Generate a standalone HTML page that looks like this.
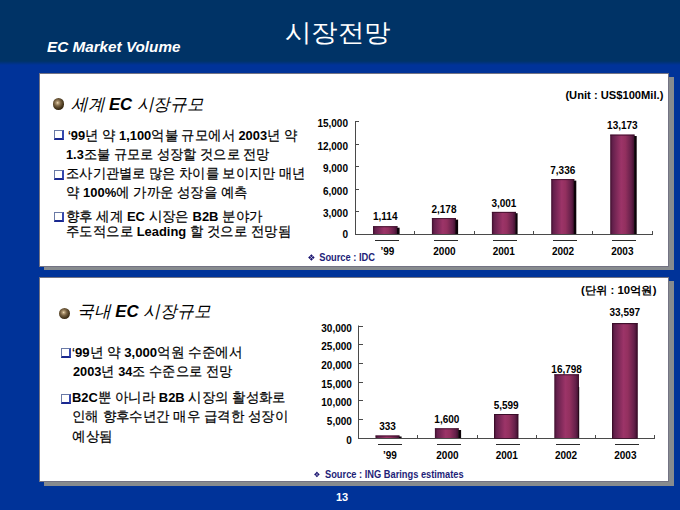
<!DOCTYPE html>
<html><head><meta charset="utf-8">
<style>
html,body{margin:0;padding:0;}
body{width:680px;height:510px;position:relative;overflow:hidden;background:#003399;font-family:"Liberation Sans",sans-serif;color:#000;}
.a{position:absolute;white-space:nowrap;}
#hdr{left:0;top:0;width:680px;height:65px;background:linear-gradient(to bottom,#003366 0,#003366 61px,#003399 65px);}
.title{left:285px;top:12.3px;font-size:25px;line-height:40px;color:#fff;transform-origin:0 0;transform:scaleX(1.06);}
.sub{left:47px;top:37.2px;font-size:15px;line-height:20px;color:#fff;font-weight:bold;font-style:italic;transform-origin:0 0;transform:scaleX(1.018);}
.panel{background:#fff;border:1px solid rgba(0,0,30,0.55);}
.shadow{background:#878b8e;}
.ball{width:11px;height:11px;border-radius:50%;background:radial-gradient(circle 7.5px at 42% 40%,#f4e2c0 0,#b8a07a 15%,#7c6646 40%,#4e3d22 70%,#2a1c08 100%);}
.head{font-size:17px;line-height:20px;font-style:italic;}
.txt{font-size:13.5px;line-height:16px;transform-origin:0 0;-webkit-text-stroke:0.2px #000;}
.txt b{-webkit-text-stroke-width:0;}
.cb{width:10px;height:10px;box-sizing:border-box;border-left:1px solid #6a7aa6;border-top:1px solid #6a7aa6;border-right:2px solid #3548b0;border-bottom:2px solid #1a2890;background:#fff;}
svg text{font-family:"Liberation Sans",sans-serif;font-weight:bold;}
.lb{font-size:10px;fill:#000;}
.unit{font-size:11px;fill:#000;}
.src{font-size:10px;fill:#1e1e78;}
.page{left:336px;top:490px;font-size:11px;line-height:14px;color:#fff;font-weight:bold;}
</style></head><body>
<div id="hdr" class="a"></div>
<div class="a title" id="ttl">시장전망</div>
<div class="a sub" id="sub">EC Market Volume</div>

<!-- panel 1 -->
<div class="a shadow" style="left:44px;top:77px;width:630px;height:193px;"></div>
<div class="a panel" style="left:39px;top:73px;width:628px;height:192px;"></div>
<div class="a ball" style="left:53.1px;top:98.4px;width:11.3px;height:11.3px;"></div>
<div class="a head" id="h1" style="left:71px;top:94.5px;transform-origin:0 0;transform:scaleX(0.98);">세계 <b>EC</b> 시장규모</div>

<div class="a cb" style="left:54px;top:130px;"></div>
<div class="a cb" style="left:54px;top:170px;"></div>
<div class="a cb" style="left:54px;top:212px;"></div>
<div class="a txt" id="p1l1" style="left:67.7px;top:128px;transform:scaleX(0.953);">‘<b>99</b>년 약 <b>1,100</b>억불 규모에서 <b>2003</b>년 약</div>
<div class="a txt" id="p1l2" style="left:66px;top:146.8px;transform:scaleX(0.944);"><b>1.3</b>조불 규모로 성장할 것으로 전망</div>
<div class="a txt" id="p1l3" style="left:66px;top:166.3px;transform:scaleX(0.947);">조사기관별로 많은 차이를 보이지만 매년</div>
<div class="a txt" id="p1l4" style="left:66px;top:184.9px;transform:scaleX(0.959);">약 <b>100%</b>에 가까운 성장을 예측</div>
<div class="a txt" id="p1l5" style="left:66px;top:208.8px;transform:scaleX(0.96);">향후 세계 <b>EC</b> 시장은 <b>B2B</b> 분야가</div>
<div class="a txt" id="p1l6" style="left:66px;top:224px;transform:scaleX(0.958);">주도적으로 <b>Leading</b> 할 것으로 전망됨</div>

<!-- panel 2 -->
<div class="a shadow" style="left:44px;top:281px;width:630px;height:205px;"></div>
<div class="a panel" style="left:39px;top:277px;width:628px;height:203px;"></div>
<div class="a ball" style="left:58.6px;top:307.8px;width:11.6px;height:11.6px;"></div>
<div class="a head" id="h2" style="left:76.5px;top:302px;transform-origin:0 0;transform:scaleX(0.99);">국내 <b>EC</b> 시장규모</div>

<div class="a cb" style="left:60.5px;top:347.5px;"></div>
<div class="a cb" style="left:60.5px;top:394px;"></div>
<div class="a txt" id="p2l1" style="left:72.3px;top:344.5px;transform:scaleX(0.975);">‘<b>99</b>년 약 <b>3,000</b>억원 수준에서</div>
<div class="a txt" id="p2l2" style="left:73px;top:364px;transform:scaleX(0.945);"><b>2003</b>년 <b>34</b>조 수준으로 전망</div>
<div class="a txt" id="p2l3" style="left:72.3px;top:390px;transform:scaleX(0.959);"><b>B2C</b>뿐 아니라 <b>B2B</b> 시장의 활성화로</div>
<div class="a txt" id="p2l4" style="left:72px;top:408.8px;transform:scaleX(0.961);">인해 향후수년간 매우 급격한 성장이</div>
<div class="a txt" id="p2l5" style="left:72px;top:428.5px;transform:scaleX(0.967);">예상됨</div>

<!--CHARTS-->
<svg class="a" style="left:0;top:0" width="680" height="510" viewBox="0 0 680 510">
<defs>
<linearGradient id="bg" x1="0" y1="0" x2="1" y2="0">
<stop offset="0" stop-color="#3e0e2c"/>
<stop offset="0.1" stop-color="#64204c"/>
<stop offset="0.45" stop-color="#9c3468"/>
<stop offset="0.62" stop-color="#93305f"/>
<stop offset="0.86" stop-color="#65204a"/>
<stop offset="1" stop-color="#3a0e2a"/>
</linearGradient>
</defs>
<rect x="355" y="121" width="1" height="114" fill="#4a4a4a"/>
<rect x="356" y="121" width="3" height="1" fill="#4a4a4a"/>
<text x="348" y="126.6" text-anchor="end" class="lb">15,000</text>
<rect x="356" y="144" width="3" height="1" fill="#4a4a4a"/>
<text x="348" y="149.6" text-anchor="end" class="lb">12,000</text>
<rect x="356" y="166" width="3" height="1" fill="#4a4a4a"/>
<text x="348" y="171.6" text-anchor="end" class="lb">9,000</text>
<rect x="356" y="189" width="3" height="1" fill="#4a4a4a"/>
<text x="348" y="194.6" text-anchor="end" class="lb">6,000</text>
<rect x="356" y="211" width="3" height="1" fill="#4a4a4a"/>
<text x="348" y="216.6" text-anchor="end" class="lb">3,000</text>
<text x="348" y="238.3" text-anchor="end" class="lb">0</text>
<rect x="355" y="234" width="298" height="1" fill="#4a4a4a"/>
<rect x="414" y="231" width="1" height="3" fill="#4a4a4a"/>
<rect x="474" y="231" width="1" height="3" fill="#4a4a4a"/>
<rect x="533" y="231" width="1" height="3" fill="#4a4a4a"/>
<rect x="592" y="231" width="1" height="3" fill="#4a4a4a"/>
<rect x="652" y="231" width="1" height="3" fill="#4a4a4a"/>
<rect x="373" y="226.2" width="24.5" height="7.8" fill="url(#bg)"/>
<rect x="373" y="226.2" width="24.5" height="1" fill="#3a0c28" opacity="0.85"/>
<rect x="397" y="227.7" width="2.6" height="6.3" fill="#0c0208"/>
<rect x="375" y="240" width="24" height="1" fill="#2a2a2a"/>
<text x="387.45" y="254.9" text-anchor="middle" class="lb">’99</text>
<text x="385.25" y="220.4" text-anchor="middle" class="lb">1,114</text>
<rect x="431.9" y="218.1" width="24.1" height="15.9" fill="url(#bg)"/>
<rect x="431.9" y="218.1" width="24.1" height="1" fill="#3a0c28" opacity="0.85"/>
<rect x="455.5" y="219.6" width="2.6" height="14.4" fill="#0c0208"/>
<rect x="434" y="240" width="24" height="1" fill="#2a2a2a"/>
<text x="444.45" y="254.9" text-anchor="middle" class="lb">2000</text>
<text x="443.95" y="212.9" text-anchor="middle" class="lb">2,178</text>
<rect x="491.9" y="211.9" width="24" height="22.1" fill="url(#bg)"/>
<rect x="491.9" y="211.9" width="24" height="1" fill="#3a0c28" opacity="0.85"/>
<rect x="515.4" y="213.2" width="2.2" height="20.8" fill="#0c0208"/>
<rect x="493" y="240" width="24" height="1" fill="#2a2a2a"/>
<text x="503.75" y="254.9" text-anchor="middle" class="lb">2001</text>
<text x="503.9" y="206.6" text-anchor="middle" class="lb">3,001</text>
<rect x="551.2" y="179.1" width="23.1" height="54.9" fill="url(#bg)"/>
<rect x="551.2" y="179.1" width="23.1" height="1" fill="#3a0c28" opacity="0.85"/>
<rect x="573.8" y="180.6" width="2.5" height="53.4" fill="#0c0208"/>
<rect x="553" y="240" width="24" height="1" fill="#2a2a2a"/>
<text x="563.05" y="254.9" text-anchor="middle" class="lb">2002</text>
<text x="562.75" y="173.8" text-anchor="middle" class="lb">7,336</text>
<rect x="610.2" y="134.6" width="24.4" height="99.4" fill="url(#bg)"/>
<rect x="610.2" y="134.6" width="24.4" height="1" fill="#3a0c28" opacity="0.85"/>
<rect x="634.1" y="136" width="2.6" height="98" fill="#0c0208"/>
<rect x="612" y="240" width="24" height="1" fill="#2a2a2a"/>
<text x="622.35" y="254.9" text-anchor="middle" class="lb">2003</text>
<text x="622.4" y="129.4" text-anchor="middle" class="lb">13,173</text>
<rect x="358" y="325.5" width="1" height="113.5" fill="#4a4a4a"/>
<rect x="359" y="326" width="4" height="1" fill="#4a4a4a"/>
<text x="351.9" y="331.6" text-anchor="end" class="lb">30,000</text>
<rect x="359" y="344" width="4" height="1" fill="#4a4a4a"/>
<text x="351.9" y="349.6" text-anchor="end" class="lb">25,000</text>
<rect x="359" y="363" width="4" height="1" fill="#4a4a4a"/>
<text x="351.9" y="368.6" text-anchor="end" class="lb">20,000</text>
<rect x="359" y="382" width="4" height="1" fill="#4a4a4a"/>
<text x="351.9" y="387.6" text-anchor="end" class="lb">15,000</text>
<rect x="359" y="400" width="4" height="1" fill="#4a4a4a"/>
<text x="351.9" y="405.6" text-anchor="end" class="lb">10,000</text>
<rect x="359" y="419" width="4" height="1" fill="#4a4a4a"/>
<text x="351.9" y="424.6" text-anchor="end" class="lb">5,000</text>
<text x="351.9" y="443.6" text-anchor="end" class="lb">0</text>
<rect x="358" y="438" width="297" height="1" fill="#4a4a4a"/>
<rect x="417" y="435" width="1" height="3" fill="#4a4a4a"/>
<rect x="477" y="435" width="1" height="3" fill="#4a4a4a"/>
<rect x="536" y="435" width="1" height="3" fill="#4a4a4a"/>
<rect x="595" y="435" width="1" height="3" fill="#4a4a4a"/>
<rect x="654" y="435" width="1" height="3" fill="#4a4a4a"/>
<rect x="375.5" y="435.5" width="24" height="2.5" fill="url(#bg)"/>
<rect x="375.5" y="435.5" width="24" height="1" fill="#3a0c28" opacity="0.85"/>
<rect x="399" y="436.5" width="2.6" height="1.5" fill="#0c0208"/>
<rect x="378" y="444" width="24" height="1" fill="#2a2a2a"/>
<text x="389.85" y="459.1" text-anchor="middle" class="lb">’99</text>
<text x="387.5" y="430.2" text-anchor="middle" class="lb">333</text>
<rect x="434.9" y="428.3" width="23.9" height="9.7" fill="url(#bg)"/>
<rect x="434.9" y="428.3" width="23.9" height="1" fill="#3a0c28" opacity="0.85"/>
<rect x="458.3" y="430" width="2.8" height="8" fill="#0c0208"/>
<rect x="437" y="444" width="24" height="1" fill="#2a2a2a"/>
<text x="447.45" y="459.1" text-anchor="middle" class="lb">2000</text>
<text x="446.85" y="423" text-anchor="middle" class="lb">1,600</text>
<rect x="494" y="414" width="24.3" height="24" fill="url(#bg)"/>
<rect x="494" y="414" width="24.3" height="1" fill="#3a0c28" opacity="0.85"/>
<rect x="496" y="444" width="24" height="1" fill="#2a2a2a"/>
<text x="506.75" y="459.1" text-anchor="middle" class="lb">2001</text>
<text x="506.15" y="408.5" text-anchor="middle" class="lb">5,599</text>
<rect x="554.3" y="374.3" width="24.7" height="63.7" fill="url(#bg)"/>
<rect x="554.3" y="374.3" width="24.7" height="1" fill="#3a0c28" opacity="0.85"/>
<rect x="578.5" y="387" width="0.7" height="51" fill="#0c0208"/>
<rect x="556" y="444" width="24" height="1" fill="#2a2a2a"/>
<text x="566.05" y="459.1" text-anchor="middle" class="lb">2002</text>
<text x="566.65" y="373.2" text-anchor="middle" class="lb">16,798</text>
<rect x="612" y="323.1" width="25.6" height="114.9" fill="url(#bg)"/>
<rect x="612" y="323.1" width="25.6" height="1" fill="#3a0c28" opacity="0.85"/>
<rect x="615" y="444" width="24" height="1" fill="#2a2a2a"/>
<text x="625.35" y="459.1" text-anchor="middle" class="lb">2003</text>
<text x="624.8" y="315.6" text-anchor="middle" class="lb">33,597</text>
<rect x="494.5" y="414.5" width="23.3" height="24" fill="none" stroke="#3a0c28" stroke-width="1" opacity="0.8"/>
<rect x="612.5" y="323.6" width="24.6" height="114.9" fill="none" stroke="#3a0c28" stroke-width="1" opacity="0.8"/>
<text x="565.4" y="99" class="unit" textLength="98" lengthAdjust="spacingAndGlyphs">(Unit : US$100Mil.)</text>
<text x="581" y="294" class="unit" textLength="75.5" lengthAdjust="spacingAndGlyphs">(단위 : 10억원)</text>
<path d="M311.4 254.14L312.9 255.63L311.4 257.13L309.9 255.63ZM313.17 255.9L314.66 257.4L313.17 258.9L311.67 257.4ZM311.4 257.67L312.9 259.17L311.4 260.66L309.9 259.17ZM309.63 255.9L311.13 257.4L309.63 258.9L308.14 257.4Z" fill="#1a1470"/>
<text x="319.2" y="260.6" class="src" textLength="55.8" lengthAdjust="spacingAndGlyphs">Source : IDC</text>
<path d="M316.9 471.62L318.18 472.89L316.9 474.17L315.62 472.89ZM318.41 473.12L319.68 474.4L318.41 475.68L317.13 474.4ZM316.9 474.63L318.18 475.91L316.9 477.18L315.62 475.91ZM315.39 473.12L316.67 474.4L315.39 475.68L314.12 474.4Z" fill="#1a1470"/>
<text x="325" y="478.2" class="src" textLength="138.7" lengthAdjust="spacingAndGlyphs">Source : ING Barings estimates</text>
</svg>
<!--/CHARTS-->
<div class="a page" id="pg">13</div>
</body></html>
